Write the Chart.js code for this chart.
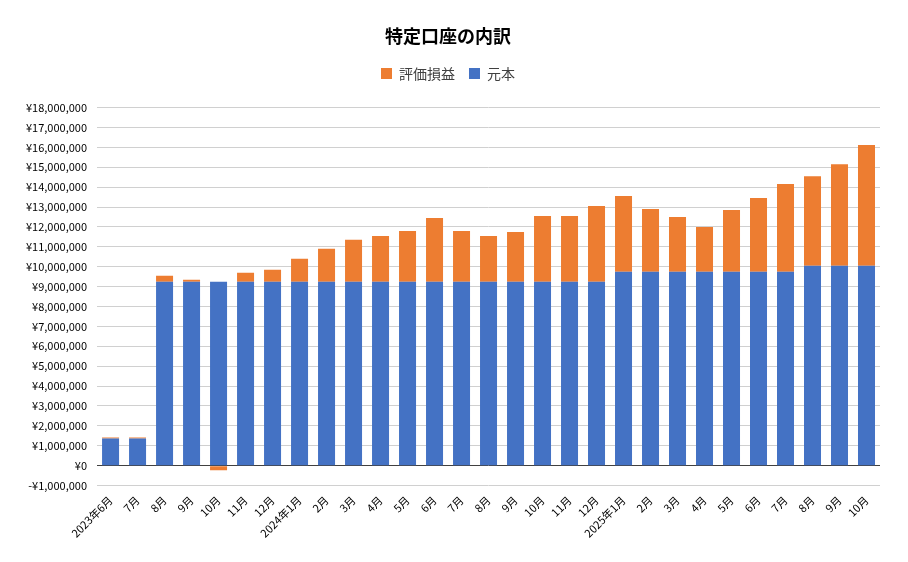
<!DOCTYPE html>
<html>
<head>
<meta charset="utf-8">
<script src="https://cdn.jsdelivr.net/npm/chart.js@4.4.1/dist/chart.umd.min.js"></script>
<style>
  html, body { margin: 0; padding: 0; background: #ffffff; }
  #wrap { width: 908px; height: 562px; }
</style>
</head>
<body>
<div id="wrap"><canvas id="c" width="908" height="562"></canvas></div>
<script>
const categories = [
  "2023年6月", "7月", "8月", "9月", "10月", "11月", "12月",
  "2024年1月", "2月", "3月", "4月", "5月", "6月", "7月", "8月", "9月", "10月", "11月", "12月",
  "2025年1月", "2月", "3月", "4月", "5月", "6月", "7月", "8月", "9月", "10月"
];
const principal = [
  1370000, 1370000, 9250000, 9250000, 9250000, 9250000, 9250000,
  9250000, 9250000, 9250000, 9250000, 9250000, 9250000, 9250000, 9250000, 9250000, 9250000, 9250000, 9250000,
  9750000, 9750000, 9750000, 9750000, 9750000, 9750000, 9750000, 10050000, 10050000, 10050000
];
const unrealized = [
  50000, 40000, 300000, 100000, -230000, 450000, 600000,
  1150000, 1650000, 2100000, 2300000, 2550000, 3200000, 2550000, 2300000, 2500000, 3300000, 3300000, 3800000,
  3800000, 3150000, 2750000, 2250000, 3100000, 3700000, 4410000, 4500000, 5100000, 6070000
];
const seriesNames = ["元本", "評価損益"];
const yMin = -1000000, yMax = 18000000, yStep = 1000000;

const FONT = "'Noto Sans CJK JP', 'Noto Sans', sans-serif";

function yen(v) {
  const s = Math.abs(v).toLocaleString('en-US');
  return (v < 0 ? '-¥' : '¥') + s;
}

const legendMargin = {
  id: 'legendMargin',
  beforeInit(chart) {
    const orig = chart.legend.fit;
    chart.legend.fit = function () {
      orig.bind(chart.legend)();
      this.height += 17;
    };
  }
};

new Chart(document.getElementById('c'), {
  type: 'bar',
  data: {
    labels: categories,
    datasets: [
      { label: seriesNames[0], data: principal, backgroundColor: '#4472C4', stack: 's' },
      { label: seriesNames[1], data: unrealized, backgroundColor: '#ED7D31', stack: 's' }
    ]
  },
  plugins: [legendMargin],
  options: {
    responsive: false,
    animation: false,
    devicePixelRatio: 1,
    layout: { padding: { left: 16, right: 28, top: 25, bottom: 22 } },
    datasets: { bar: { categoryPercentage: 1.0, barPercentage: 0.63 } },
    plugins: {
      title: {
        display: true,
        text: '特定口座の内訳',
        color: '#000000',
        font: { family: FONT, size: 18, weight: 'bold' },
        padding: { top: 0, bottom: 6 }
      },
      legend: {
        display: true,
        reverse: true,
        labels: {
          color: '#404040',
          font: { family: FONT, size: 14 },
          boxWidth: 11,
          boxHeight: 11,
          padding: 14
        }
      },
      tooltip: { enabled: false }
    },
    scales: {
      x: {
        stacked: true,
        grid: { display: false },
        border: { display: false },
        ticks: {
          color: '#000000',
          font: { family: FONT, size: 11 },
          maxRotation: 45,
          minRotation: 45,
          autoSkip: false,
          padding: 0
        }
      },
      y: {
        stacked: true,
        min: yMin,
        max: yMax,
        border: { display: false },
        grid: {
          color: (ctx) => (ctx.tick && ctx.tick.value === 0) ? '#404040' : '#d0d0d0',
          lineWidth: 1,
          drawTicks: false
        },
        ticks: {
          stepSize: yStep,
          color: '#000000',
          font: { family: FONT, size: 11 },
          padding: 10,
          callback: (v) => yen(v)
        }
      }
    }
  }
});
</script>
</body>
</html>
